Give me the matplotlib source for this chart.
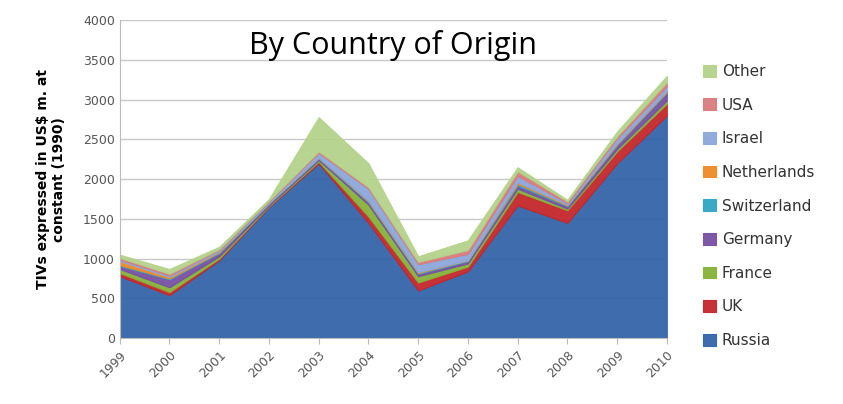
import numpy as np
import matplotlib.pyplot as plt

years = [1999, 2000, 2001, 2002, 2003, 2004, 2005, 2006, 2007, 2008, 2009, 2010]
russia = [780, 540, 980, 1650, 2200, 1450, 600, 840, 1670, 1450, 2200, 2800]
uk = [40, 40, 20, 10, 20, 80, 100, 60, 170, 160, 150, 150]
france = [50, 60, 30, 10, 20, 150, 80, 40, 40, 20, 30, 40]
germany = [40, 100, 40, 20, 20, 30, 30, 30, 40, 30, 50, 100]
switzerland = [10, 10, 10, 10, 10, 10, 10, 10, 20, 10, 10, 10]
netherlands = [50, 20, 10, 0, 0, 10, 10, 0, 20, 10, 10, 10]
israel = [20, 20, 20, 20, 60, 150, 100, 80, 80, 20, 60, 60]
usa = [20, 20, 10, 10, 20, 20, 30, 50, 60, 20, 30, 50]
other = [40, 60, 30, 20, 430, 300, 70, 120, 50, 20, 60, 80]

names = ["Russia", "UK", "France", "Germany", "Switzerland", "Netherlands", "Israel", "USA", "Other"]
series = [russia, uk, france, germany, switzerland, netherlands, israel, usa, other]
colors = ["#3464a8", "#c4272b", "#86b23a", "#7650a3", "#2fa6c3", "#ef8a25", "#8ba7dc", "#d97b7c", "#b3d38a"]

fig = plt.figure(figsize=(8.43, 4.04), dpi=100)
ax = fig.add_axes([0.142, 0.163, 0.649, 0.787])

x = np.arange(len(years))
polys = ax.stackplot(x, *series, colors=colors, labels=names, alpha=0.95, zorder=2)
for p, c in zip(polys, colors):
    p.set_edgecolor(c)
    p.set_linewidth(0.8)

ax.set_xlim(0, len(years) - 1)
ax.set_ylim(0, 4000)
ax.set_yticks(range(0, 4001, 500))
ax.set_xticks(x)
ax.set_xticklabels([str(y) for y in years], rotation=45, ha="right", rotation_mode="anchor")
ax.tick_params(axis="both", labelsize=9, colors="#555555")
ax.tick_params(axis="y", length=0)
ax.tick_params(axis="x", length=4, color="#bbbbbb")
ax.grid(axis="y", color="#c8c8c8", linewidth=1, zorder=0)
ax.set_axisbelow(True)
for s in ["top", "right"]:
    ax.spines[s].set_visible(False)
ax.spines["left"].set_color("#bbbbbb")
ax.spines["bottom"].set_color("#bbbbbb")

ax.set_ylabel("TIVs expressed in US$ m. at\nconstant (1990)", fontsize=10, fontweight="bold", labelpad=12)
ax.text(0.5, 0.92, "By Country of Origin", transform=ax.transAxes, ha="center", va="center",
        fontsize=22, family="Open Sans")

handles, labels = ax.get_legend_handles_labels()
fig.legend(handles[::-1], labels[::-1], loc="center left", bbox_to_anchor=(0.818, 0.49),
           frameon=False, fontsize=11, handlelength=0.8, handleheight=0.8, labelspacing=1.22,
           handletextpad=0.4, labelcolor="#333333")

fig.savefig("out.png", dpi=100)
